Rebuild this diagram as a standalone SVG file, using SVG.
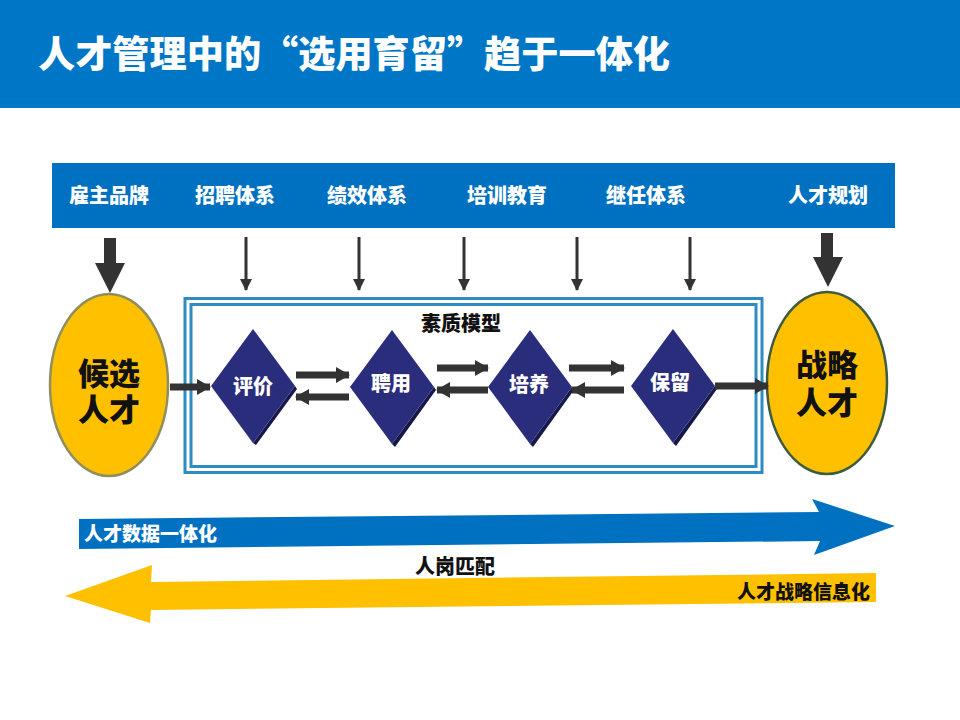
<svg xmlns="http://www.w3.org/2000/svg" width="960" height="720" viewBox="0 0 960 720">
<defs>
<style>
.t{font-family:"Noto Sans CJK SC","Liberation Sans",sans-serif;font-weight:900}
.w{fill:#fff}
.k{fill:#111}
.band{font-size:20px;text-anchor:middle}
.dtext{font-size:20px;text-anchor:middle;fill:#fff}
.big{font-size:31px;text-anchor:middle;fill:#111}
.dia{fill:#2A2D7C}
.sh{fill:#16184A}
.pa{stroke:#333;stroke-width:7;fill:none}
.ta{stroke:#333;stroke-width:3;fill:none}
</style>
<marker id="ah" markerUnits="userSpaceOnUse" markerWidth="14" markerHeight="16" refX="13" refY="8" orient="auto"><path d="M0,0 L14,8 L0,16 z" fill="#333"/></marker>
<marker id="ah2" markerUnits="userSpaceOnUse" markerWidth="12" markerHeight="12" refX="11" refY="6" orient="auto"><path d="M0,0 L12,6 L0,12 z" fill="#333"/></marker>
</defs>
<rect width="960" height="720" fill="#fff"/>
<g id="title">
<rect x="0" y="0" width="960" height="108" fill="#0077C6"/>
<text class="t w" x="38" y="68" font-size="37" textLength="632" lengthAdjust="spacingAndGlyphs">人才管理中的“选用育留”趋于一体化</text>
</g>
<g id="topband">
<rect x="52" y="163" width="843" height="65" fill="#0071C1"/>
<text class="t w band" x="109" y="203">雇主品牌</text>
<text class="t w band" x="235" y="203">招聘体系</text>
<text class="t w band" x="367" y="203">绩效体系</text>
<text class="t w band" x="507" y="203">培训教育</text>
<text class="t w band" x="646" y="203">继任体系</text>
<text class="t w band" x="828" y="203">人才规划</text>
</g>
<g id="model-box">
<rect x="185" y="298.5" width="577" height="174" fill="none" stroke="#2F8CC2" stroke-width="3"/>
<rect x="191" y="304.5" width="565" height="162" fill="none" stroke="#2F8CC2" stroke-width="3"/>
<text class="t k" x="461" y="331" font-size="20" text-anchor="middle">素质模型</text>
</g>
<g id="candidate">
<ellipse cx="109" cy="385" rx="59" ry="91" fill="#FFC000" stroke="#8E8E5E" stroke-width="2.5"/>
<text class="t big"><tspan x="109" y="385">候选</tspan><tspan x="109" y="421">人才</tspan></text>
</g>
<g id="strategic">
<ellipse cx="827" cy="383" rx="60" ry="91" fill="#FFC000" stroke="#3D5C3F" stroke-width="2.5"/>
<text class="t big"><tspan x="827" y="376">战略</tspan><tspan x="827" y="414">人才</tspan></text>
</g>
<g id="evaluate">
<polygon points="211,386 253,443 255,446 213,389" fill="#9A9CB8"/>
<polygon class="sh" points="295,386 253,443 256,445 297,389"/>
<polygon class="dia" points="253,329 295,386 253,443 211,386"/>
<text class="t dtext" x="253" y="394">评价</text>
</g>
<g id="hire">
<polygon class="sh" points="434,387 392,444 395,447 436,390"/>
<polygon class="dia" points="392,330 434,387 392,444 350,387"/>
<text class="t dtext" x="391" y="391">聘用</text>
</g>
<g id="train">
<polygon class="sh" points="572,387 530,444 533,447 574,390"/>
<polygon class="dia" points="530,330 572,387 530,444 488,387"/>
<text class="t dtext" x="529" y="392">培养</text>
</g>
<g id="retain">
<polygon class="sh" points="715,386 673,443 676,446 717,389"/>
<polygon class="dia" points="673,329 715,386 673,443 631,386"/>
<text class="t dtext" x="670" y="390">保留</text>
</g>
<g id="connectors">
<polygon points="104,238 116,238 116,263 125,263 110,293 95,263 104,263" fill="#333"/>
<polygon points="821,233 833,233 833,257 843,257 828,287 813,257 821,257" fill="#333"/>
<line class="ta" x1="246" y1="237" x2="246" y2="290" marker-end="url(#ah2)"/>
<line class="ta" x1="359" y1="237" x2="359" y2="290" marker-end="url(#ah2)"/>
<line class="ta" x1="464" y1="237" x2="464" y2="290" marker-end="url(#ah2)"/>
<line class="ta" x1="577" y1="237" x2="577" y2="290" marker-end="url(#ah2)"/>
<line class="ta" x1="690" y1="237" x2="690" y2="290" marker-end="url(#ah2)"/>
<line class="pa" x1="170" y1="387" x2="210" y2="387" marker-end="url(#ah)"/>
<line class="pa" x1="296" y1="375" x2="349" y2="375" marker-end="url(#ah)"/>
<line class="pa" x1="349" y1="397" x2="296" y2="397" marker-end="url(#ah)"/>
<line class="pa" x1="437" y1="368" x2="488" y2="368" marker-end="url(#ah)"/>
<line class="pa" x1="488" y1="390" x2="437" y2="390" marker-end="url(#ah)"/>
<line class="pa" x1="569" y1="368" x2="624" y2="368" marker-end="url(#ah)"/>
<line class="pa" x1="624" y1="390" x2="572" y2="390" marker-end="url(#ah)"/>
<line class="pa" x1="715" y1="386" x2="768" y2="386" marker-end="url(#ah)"/>
</g>
<g id="data-arrow">
<polygon points="79,519 819,512 812,499 895,526 814,555 820,541 79,549" fill="#0071C1"/>
<text class="t w" x="84" y="541" font-size="19">人才数据一体化</text>
</g>
<g id="match-label">
<text class="t k" x="455" y="574" font-size="20" text-anchor="middle">人岗匹配</text>
</g>
<g id="info-arrow">
<polygon points="876,573 876,602 151,610 150,623 65,596 152,565 151,582" fill="#FFC000"/>
<text class="t k" x="870" y="599" font-size="19" text-anchor="end">人才战略信息化</text>
</g>
</svg>
